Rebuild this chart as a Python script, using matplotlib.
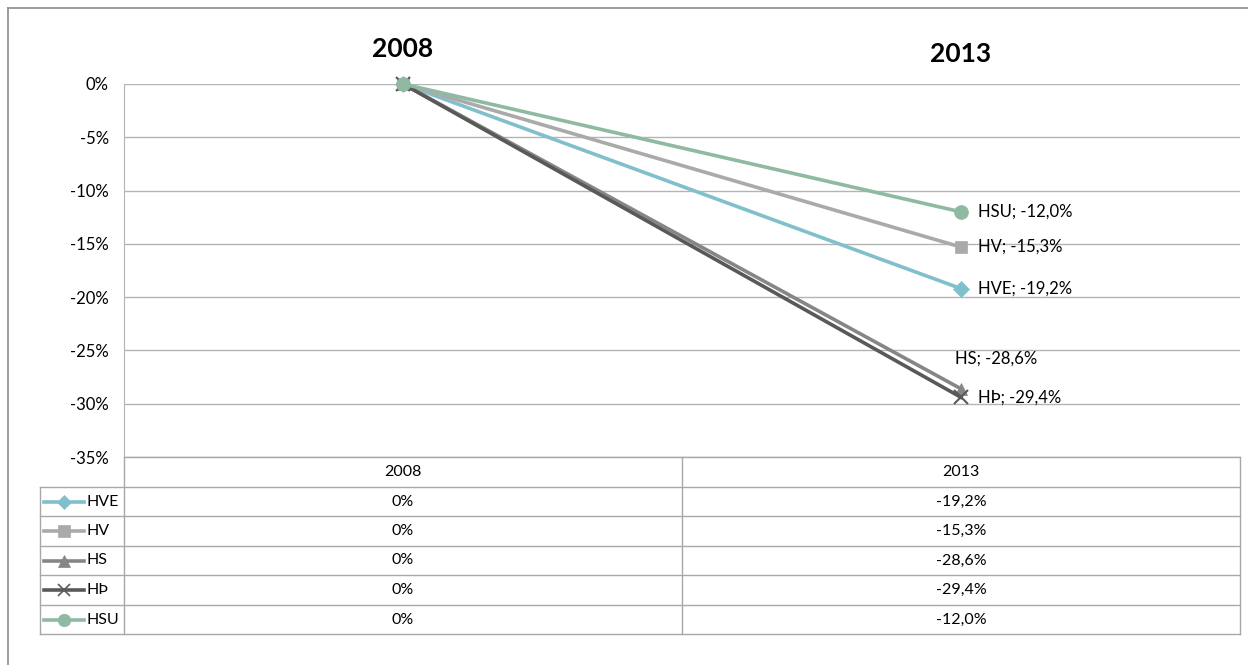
import matplotlib.pyplot as plt
from matplotlib.ticker import FuncFormatter

plt.rcParams['font.family'] = ['Lato', 'DejaVu Sans']

# series, years and change since 2008 (fractions)
years = ['2008', '2013']
names = ['HVE', 'HV', 'HS', 'HÞ', 'HSU']
change_2008 = [0.0, 0.0, 0.0, 0.0, 0.0]
change_2013 = [-0.192, -0.153, -0.286, -0.294, -0.120]

colors = ['#80C0CC', '#AAAAAA', '#868686', '#595959', '#90B9A1']
markers = ['D', 's', '^', 'x', 'o']
msizes = [8, 9, 9, 10, 10]

W, H = 1248, 665
fig = plt.figure(figsize=(W / 100, H / 100), dpi=100)

# overlay in pixel units for the frame and the data table
over = fig.add_axes([0, 0, 1, 1])
over.set_xlim(0, W)
over.set_ylim(H, 0)
over.axis('off')

# main line chart
x0, x1, ytop, ybot = 124, 1240, 84, 457
ax = fig.add_axes([x0 / W, 1 - ybot / H, (x1 - x0) / W, (ybot - ytop) / H])
ax.set_xlim(-0.5, 1.5)
ax.set_ylim(-0.35, 0)
ax.set_yticks([0, -0.05, -0.10, -0.15, -0.20, -0.25, -0.30, -0.35])
ax.yaxis.set_major_formatter(FuncFormatter(lambda v, p: f'{v * 100:.0f}%'.replace('-0%', '0%')))
ax.tick_params(axis='y', length=0, pad=11, labelsize=12)
ax.set_xticks([])
ax.grid(axis='y', color='#B4B4B4', linewidth=1)
for s in ['top', 'right', 'bottom']:
    ax.spines[s].set_visible(False)
ax.spines['left'].set_color('#B4B4B4')
ax.patch.set_alpha(0)

xs = range(len(years))
for i, name in enumerate(names):
    vals = [change_2008[i], change_2013[i]]
    ax.plot(xs, vals, color=colors[i], linewidth=2.6, marker=markers[i],
            markersize=msizes[i], markeredgewidth=1.5 if markers[i] == 'x' else 0.5,
            markeredgecolor=colors[i], zorder=3 + i, clip_on=False)
    lab = f'{name}; {change_2013[i] * 100:.1f}%'.replace('.', ',')
    if name == 'HS':
        ax.annotate(lab, (1, change_2013[i]), xytext=(-4, 22), textcoords='offset points',
                    ha='left', va='center', fontsize=12)
    else:
        ax.annotate(lab, (1, change_2013[i]), xytext=(12, 0), textcoords='offset points',
                    ha='left', va='center', fontsize=12)

# year headings above the plot
ax.text(0, 1.095, years[0], transform=ax.get_xaxis_transform(), ha='center', va='center',
        fontsize=19, fontweight='bold')
ax.text(1, 1.08, years[1], transform=ax.get_xaxis_transform(), ha='center', va='center',
        fontsize=19, fontweight='bold')

# chart frame
gc = '#8C8C8C'
over.plot([8, 8], [8, H + 5], color=gc, lw=1.2)
over.plot([8, W + 5], [8, 8], color=gc, lw=1.2)

# data table under the plot
tc = '#A8A8A8'
rows = [457, 487, 516, 546, 575, 605, 634]
tl, tm = 40, 682
over.plot([x0, x1], [rows[0], rows[0]], color=tc, lw=1)
for y in rows[1:]:
    over.plot([tl, x1], [y, y], color=tc, lw=1)
over.plot([tl, tl], [rows[1], rows[-1]], color=tc, lw=1)
for xv in (x0, tm, x1):
    over.plot([xv, xv], [rows[0], rows[-1]], color=tc, lw=1)

mid_a, mid_b = (x0 + tm) / 2, (tm + x1) / 2
fs = 11.5
over.text(mid_a, (rows[0] + rows[1]) / 2, years[0], ha='center', va='center', fontsize=fs)
over.text(mid_b, (rows[0] + rows[1]) / 2, years[1], ha='center', va='center', fontsize=fs)
for i, name in enumerate(names):
    yc = (rows[i + 1] + rows[i + 2]) / 2
    over.plot([44, 84], [yc, yc], color=colors[i], lw=2.6)
    over.plot([64], [yc], color=colors[i], marker=markers[i], markersize=msizes[i] - 1,
              markeredgewidth=1.2 if markers[i] == 'x' else 0.5, markeredgecolor=colors[i])
    over.text(87, yc, name, ha='left', va='center', fontsize=fs)
    v0 = f'{change_2008[i] * 100:.0f}%'
    v1 = f'{change_2013[i] * 100:.1f}%'.replace('.', ',')
    over.text(mid_a, yc, v0, ha='center', va='center', fontsize=fs)
    over.text(mid_b, yc, v1, ha='center', va='center', fontsize=fs)

fig.savefig('out.png', dpi=100, facecolor='white')
